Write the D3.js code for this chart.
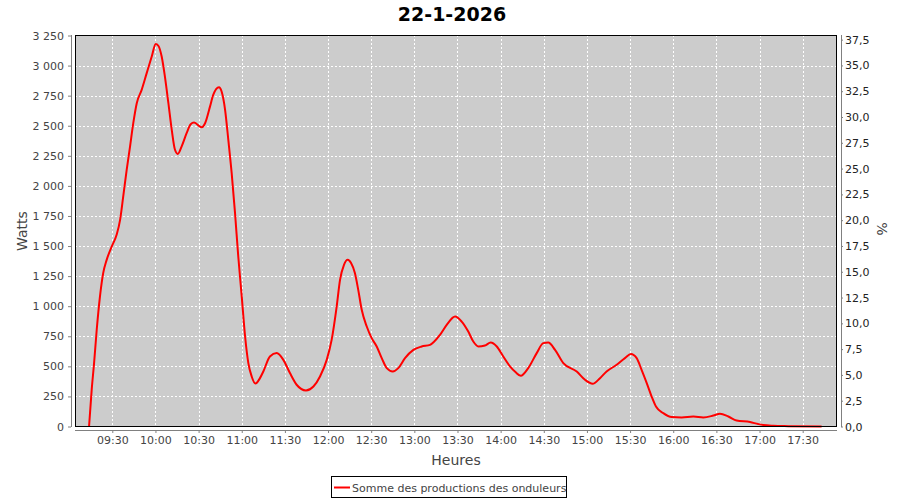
<!DOCTYPE html>
<html><head><meta charset="utf-8">
<script src="https://cdn.jsdelivr.net/npm/d3@7"></script>
<style>
html,body{margin:0;padding:0;background:#fff;}
svg{display:block;font-family:"DejaVu Sans",sans-serif;}
</style></head>
<body><svg id="c" width="900" height="500"></svg>
<script>
const title = "22-1-2026";
const seriesName = "Somme des productions des onduleurs";
const times = ["09:13:50","09:15:40","09:17:20","09:19:10","09:21:25","09:23:40","09:26:05","09:29:35","09:33:00","09:35:25","09:37:35","09:40:00","09:42:20","09:44:35","09:47:00","09:50:25","09:53:55","09:57:25","10:00:10","10:02:00","10:04:20","10:06:35","10:09:00","10:11:20","10:13:35","10:15:30","10:18:10","10:21:40","10:24:30","10:26:50","10:32:10","10:34:30","10:37:55","10:40:10","10:44:10","10:46:00","10:48:25","10:50:40","10:53:00","10:55:20","10:57:35","11:00:00","11:02:20","11:04:35","11:06:55","11:09:30","11:12:40","11:15:00","11:19:35","11:24:20","11:28:55","11:33:30","11:38:10","11:44:40","11:49:50","11:54:25","11:59:05","12:02:30","12:06:00","12:08:20","12:11:05","12:13:40","12:16:00","12:18:40","12:21:00","12:23:25","12:26:55","12:30:20","12:33:50","12:37:20","12:40:50","12:45:00","12:48:50","12:53:30","12:59:20","13:05:05","13:10:55","13:17:50","13:22:30","13:28:20","13:32:55","13:37:30","13:41:00","13:44:30","13:49:05","13:53:05","13:57:20","14:01:50","14:06:30","14:10:30","14:14:00","14:19:10","14:25:05","14:29:40","14:33:05","14:37:50","14:43:35","14:52:55","14:58:40","15:04:00","15:09:05","15:13:40","15:20:40","15:26:25","15:30:35","15:34:35","15:38:00","15:41:35","15:45:00","15:48:00","15:53:05","15:58:55","16:05:55","16:14:00","16:20:55","16:27:55","16:32:30","16:38:20","16:44:05","16:53:25","16:59:05","17:02:35","17:09:35","17:20:00","17:43:10"];
const watts = [0,305,527,804,1080,1275,1385,1496,1593,1718,1911,2133,2327,2521,2687,2798,2937,3075,3180,3165,3075,2908,2687,2466,2300,2266,2327,2438,2513,2526,2488,2521,2659,2756,2820,2784,2632,2382,2106,1773,1413,1080,748,527,416,357,402,457,582,610,554,444,347,299,332,416,554,720,997,1219,1344,1385,1358,1275,1136,970,831,735,665,568,485,457,485,568,637,665,679,762,845,914,872,789,706,665,673,698,665,582,499,450,421,485,610,693,698,637,527,457,388,355,402,457,513,568,602,568,471,361,249,166,111,78,75,83,75,91,106,83,50,37,20,12,6,3,0];
const xTickLabels = ["09:30","10:00","10:30","11:00","11:30","12:00","12:30","13:00","13:30","14:00","14:30","15:00","15:30","16:00","16:30","17:00","17:30"];
const yTicks = [0,250,500,750,1000,1250,1500,1750,2000,2250,2500,2750,3000,3250];
const pctTicks = [0,2.5,5,7.5,10,12.5,15,17.5,20,22.5,25,27.5,30,32.5,35,37.5];

const parse = d3.timeParse("%H:%M:%S");
const data = times.map((t,i)=>({t:parse(t), v:watts[i]}));

const loc = d3.formatLocale({decimal:",", thousands:" ", grouping:[3], currency:["",""]});
const fmtW = loc.format(",d");
const fmtP = loc.format(".1f");

const L=75, R=837, T=35, B=427;
const svg = d3.select("#c");

const x = d3.scaleTime().domain([parse("09:04:04"), parse("17:53:52")]).range([L,R]);
const y = d3.scaleLinear().domain([0,3250]).range([426.5,35.5]);
const y2 = d3.scaleLinear().domain([0,37.9]).range([426.5,35.5]);

// title
svg.append("text").attr("x",452).attr("y",21).attr("text-anchor","middle")
  .attr("font-size",19).attr("font-weight","bold").attr("fill","#000").text(title);

// plot bg
svg.append("rect").attr("x",L).attr("y",T).attr("width",R-L).attr("height",B-T).attr("fill","#cccccc");

const xTicks = xTickLabels.map(s=>parse(s+":00"));
// grid
const g = svg.append("g").attr("stroke","#fff").attr("stroke-width",1).attr("stroke-dasharray","2,2").attr("shape-rendering","crispEdges");
g.selectAll("line.v").data(xTicks).join("line")
  .attr("x1",d=>Math.round(x(d))+0.5).attr("x2",d=>Math.round(x(d))+0.5).attr("y1",T).attr("y2",B);
g.selectAll("line.h").data(yTicks.filter(d=>d>0&&d<3250)).join("line")
  .attr("y1",d=>Math.round(y(d))+0.5).attr("y2",d=>Math.round(y(d))+0.5).attr("x1",L).attr("x2",R);

// line
const line = d3.line().x(d=>x(d.t)).y(d=>y(d.v)).curve(d3.curveMonotoneX);
svg.append("path").datum(data).attr("d",line).attr("fill","none")
  .attr("stroke","#ff0000").attr("stroke-width",2).attr("stroke-linejoin","round");

// frame
svg.append("rect").attr("x",L+0.5).attr("y",T+0.5).attr("width",R-L-1).attr("height",B-T-1)
  .attr("fill","none").attr("stroke","#000").attr("stroke-width",1);

// left axis
const ax = svg.append("g").attr("transform","translate(71,0)")
  .call(d3.axisLeft(y).tickValues(yTicks).tickFormat(fmtW).tickSize(3).tickPadding(4));
ax.select(".domain").attr("stroke","#808080").attr("d","M0.5,"+T+"V"+B);
ax.selectAll(".tick line").attr("stroke","#808080");
ax.selectAll("text").attr("font-size",11).attr("fill","#444").attr("font-family","DejaVu Sans");

// right axis
const ar = svg.append("g").attr("transform","translate(841,0)")
  .call(d3.axisRight(y2).tickValues(pctTicks).tickFormat(fmtP).tickSize(2).tickPadding(2));
ar.select(".domain").attr("stroke","#808080").attr("d","M0.5,"+T+"V"+B);
ar.selectAll(".tick line").attr("stroke","#808080");
ar.selectAll("text").attr("font-size",11).attr("fill","#222").attr("font-family","DejaVu Sans");

// bottom axis
const axb = svg.append("g").attr("transform","translate(0,430)")
  .call(d3.axisBottom(x).tickValues(xTicks).tickFormat(d3.timeFormat("%H:%M")).tickSize(3).tickPadding(3));
axb.select(".domain").attr("stroke","#808080").attr("d","M"+L+",0.5H"+R);
axb.selectAll(".tick line").attr("stroke","#808080");
axb.selectAll("text").attr("font-size",11).attr("fill","#444").attr("font-family","DejaVu Sans");

// axis labels
svg.append("text").attr("transform","translate(27,231) rotate(-90)").attr("text-anchor","middle")
  .attr("font-size",14).attr("fill","#444").text("Watts");
svg.append("text").attr("transform","translate(877,229) rotate(90)").attr("text-anchor","middle")
  .attr("font-size",14).attr("fill","#444").text("%");
svg.append("text").attr("x",456).attr("y",465).attr("text-anchor","middle")
  .attr("font-size",14).attr("fill","#444").text("Heures");

// legend
svg.append("rect").attr("x",331.5).attr("y",476.5).attr("width",235).attr("height",21)
  .attr("fill","#fff").attr("stroke","#000");
svg.append("line").attr("x1",334).attr("x2",350).attr("y1",487.5).attr("y2",487.5)
  .attr("stroke","#ff0000").attr("stroke-width",2);
svg.append("text").attr("x",352).attr("y",491.5).attr("font-size",11).attr("fill","#444").text(seriesName);
</script></body></html>
